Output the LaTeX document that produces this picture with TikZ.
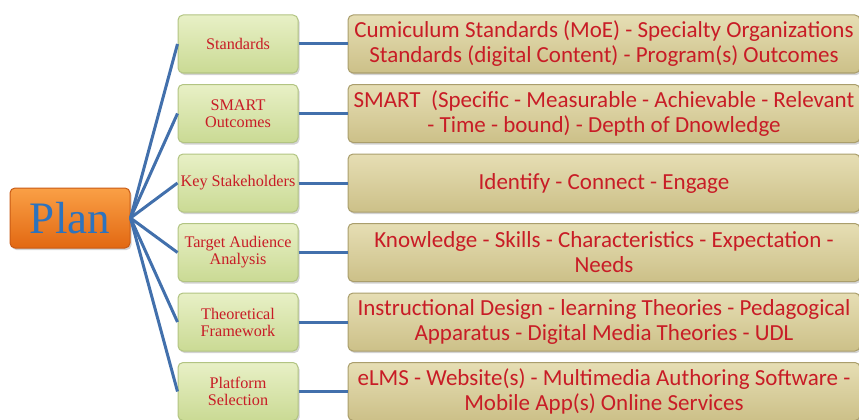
\documentclass[tikz,border=0pt]{standalone}
\usepackage{fontspec}
\setmainfont{Liberation Serif}
\newfontfamily\bodyfont{Carlito}
\usetikzlibrary{shadows}
\definecolor{lineblue}{RGB}{66,112,172}
\definecolor{textred}{RGB}{200,28,38}
\definecolor{planblue}{RGB}{45,115,190}
\tikzset{
  every picture/.style={very thick},
  box/.style={rounded corners=5pt, inner sep=1pt, align=center,
    drop shadow={shadow xshift=1.5pt, shadow yshift=-2pt, opacity=0.35}},
  plan/.style={box, draw={rgb,255:red,200;green,90;blue,20}, line width=1pt,
    top color={rgb,255:red,250;green,160;blue,70},
    bottom color={rgb,255:red,226;green,104;blue,18},
    minimum width=120pt, minimum height=60pt,
    text=planblue, font=\fontsize{45}{50}\selectfont},
  topic/.style={box, draw={rgb,255:red,178;green,196;blue,130}, line width=1pt,
    top color={rgb,255:red,232;green,240;blue,198},
    bottom color={rgb,255:red,202;green,218;blue,148},
    minimum width=120pt, minimum height=58pt,
    text=textred, font=\fontsize{16.2}{17}\selectfont},
  detail/.style={box, draw={rgb,255:red,170;green,158;blue,108}, line width=1pt,
    top color={rgb,255:red,230;green,222;blue,180},
    bottom color={rgb,255:red,204;green,192;blue,136},
    minimum width=512pt, minimum height=58pt,
    text=textred, font=\bodyfont\fontsize{23}{25}\selectfont},
  link/.style={draw=lineblue, line width=3pt}
}
\begin{document}
\begin{tikzpicture}[x=1pt,y=-1pt]
  \useasboundingbox (0,0) rectangle (859,420);
  \clip (0,0) rectangle (859,420);
  \node[plan] (plan) at (70,218) {Plan};
  \foreach \i/\topic/\detail in {
      1/{Standards}/{Cumiculum Standards (MoE) - Specialty Organizations\\Standards (digital Content) - Program(s) Outcomes},
      2/{SMART\\Outcomes}/{SMART~~(Specific - Measurable - Achievable - Relevant\\- Time - bound) - Depth of Dnowledge},
      3/{Key Stakeholders}/{Identify - Connect - Engage},
      4/{Target Audience\\Analysis}/{Knowledge - Skills - Characteristics - Expectation -\\Needs},
      5/{Theoretical\\Framework}/{Instructional Design - learning Theories - Pedagogical\\Apparatus - Digital Media Theories - UDL},
      6/{Platform\\Selection}/{eLMS - Website(s) - Multimedia Authoring Software -\\Mobile App(s) Online Services}} {
    \node[topic] (t\i) at (238,{44+69.5*(\i-1)}) {\topic};
    \node[detail] (d\i) at (604,{44+69.5*(\i-1)}) {\detail};
    \draw[link] (plan.east) -- (t\i.west);
    \draw[link] (t\i.east) -- (d\i.west);
  }
\end{tikzpicture}
\end{document}
